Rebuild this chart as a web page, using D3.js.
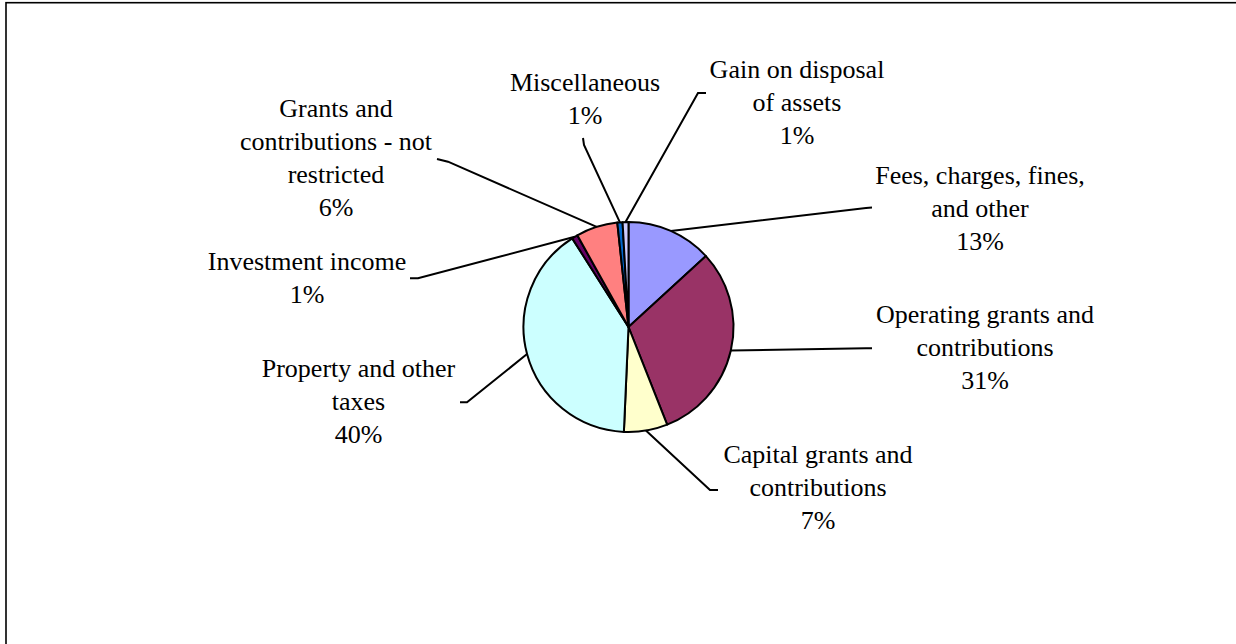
<!DOCTYPE html>
<html>
<head>
<meta charset="utf-8">
<script src="https://cdn.jsdelivr.net/npm/d3@7/dist/d3.min.js"></script>
<style>
  html, body { margin: 0; padding: 0; background: #ffffff; }
  svg { display: block; }
  text.lbl { font-family: "Liberation Serif", "Times New Roman", Times, "DejaVu Serif", serif; }
</style>
</head>
<body>
<svg id="chart" width="1236" height="644"></svg>
<script>
// ---- data ----
const categories = [
  "Fees, charges, fines, and other",
  "Operating grants and contributions",
  "Capital grants and contributions",
  "Property and other taxes",
  "Investment income",
  "Grants and contributions - not restricted",
  "Miscellaneous",
  "Gain on disposal of assets"
];
const values = [13.2, 30.8, 6.7, 40.3, 0.9, 6.4, 0.8, 0.9];
const labelLines = [
  ["Fees, charges, fines,", "and other"],
  ["Operating grants and", "contributions"],
  ["Capital grants and", "contributions"],
  ["Property and other", "taxes"],
  ["Investment income"],
  ["Grants and", "contributions - not", "restricted"],
  ["Miscellaneous"],
  ["Gain on disposal", "of assets"]
];
const colors = ["#9999FF", "#993366", "#FFFFCC", "#CCFFFF", "#660066", "#FF8080", "#0066CC", "#CCCCFF"];

// ---- layout (label placement, as in the original) ----
const cx = 628.5, cy = 327, R = 105;
const fontSize = 26, lineH = 33;
const labelLayout = [
  { x: 980, y: 184, elbow: [866, 208], end: [872, 207.5] },
  { x: 985, y: 323, elbow: [866, 348.3], end: [872, 348.3] },
  { x: 818, y: 463, elbow: [710, 490], end: [718, 490] },
  { x: 358.5, y: 377, elbow: [467, 402.3], end: [460, 402.3] },
  { x: 307, y: 270, elbow: [418, 278.3], end: [410, 278.3] },
  { x: 336, y: 117, elbow: [448, 161.7], end: [437, 159] },
  { x: 585, y: 91, elbow: [584, 145], end: [583, 138] },
  { x: 797, y: 78, elbow: [698, 93], end: [706, 93] }
];

const svg = d3.select("#chart");

svg.append("rect")
  .attr("x", 6).attr("y", 2.7)
  .attr("width", 1300).attr("height", 700)
  .attr("fill", "#ffffff")
  .attr("stroke", "#000000")
  .attr("stroke-width", 1.6);

const data = categories.map((c, i) => ({ name: c, value: values[i], i }));
const total = d3.sum(values);

const pie = d3.pie().value(d => d.value).sort(null)
  .startAngle(0).endAngle(2 * Math.PI);
const arcs = pie(data);
const arc = d3.arc().innerRadius(0).outerRadius(R);

const g = svg.append("g").attr("transform", `translate(${cx},${cy})`);

g.selectAll("path.slice")
  .data(arcs)
  .join("path")
  .attr("class", "slice")
  .attr("d", arc)
  .attr("fill", d => colors[d.data.i])
  .attr("stroke", "#000000")
  .attr("stroke-width", 2)
  .attr("stroke-linejoin", "round");

const line = d3.line();
svg.selectAll("path.leader")
  .data(arcs)
  .join("path")
  .attr("class", "leader")
  .attr("d", d => {
    const a = (d.startAngle + d.endAngle) / 2;
    const p0 = [cx + R * Math.sin(a), cy - R * Math.cos(a)];
    const L = labelLayout[d.data.i];
    return line([p0, L.elbow, L.end]);
  })
  .attr("fill", "none")
  .attr("stroke", "#000000")
  .attr("stroke-width", 2);

const fmt = v => Math.round(v / total * 100) + "%";
const labels = svg.selectAll("text.lbl")
  .data(arcs)
  .join("text")
  .attr("class", "lbl")
  .attr("text-anchor", "middle")
  .style("font-size", fontSize + "px")
  .attr("fill", "#000000");

labels.each(function(d) {
  const L = labelLayout[d.data.i];
  const lines = labelLines[d.data.i].concat([fmt(d.data.value)]);
  d3.select(this).selectAll("tspan")
    .data(lines)
    .join("tspan")
    .attr("x", L.x)
    .attr("y", (t, k) => L.y + k * lineH)
    .text(t => t);
});
</script>
</body>
</html>
